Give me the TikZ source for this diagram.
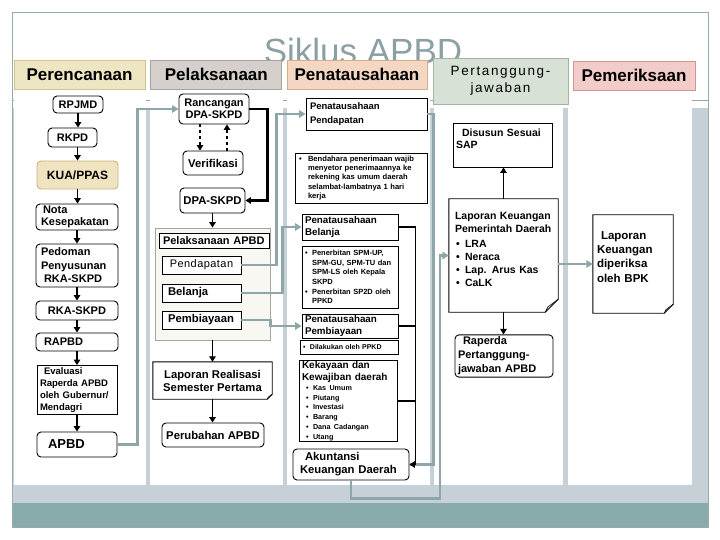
\documentclass[tikz,border=0pt]{standalone}
\usepackage{fontspec}
\setmainfont{Liberation Sans}
\usetikzlibrary{arrows.meta}
\definecolor{hAf}{HTML}{EEE5C2}\definecolor{hAd}{HTML}{D4C48A}
\definecolor{hBf}{HTML}{D6D0CC}\definecolor{hBd}{HTML}{A9A29E}
\definecolor{hCf}{HTML}{F4D7C3}\definecolor{hCd}{HTML}{D9AC8C}
\definecolor{hDf}{HTML}{D8E1D5}\definecolor{hDd}{HTML}{A4B3A2}
\definecolor{hEf}{HTML}{F2CCC8}\definecolor{hEd}{HTML}{D6958E}
\definecolor{bgg}{HTML}{C6D1D7}
\definecolor{tealband}{HTML}{89ABAB}
\definecolor{conn}{HTML}{8EA6A8}
\definecolor{titlec}{HTML}{8C9FA3}
\definecolor{framec}{HTML}{9AA9AB}
\definecolor{kuaf}{HTML}{F0E4C0}\definecolor{kuad}{HTML}{C8B27A}
\definecolor{grpf}{HTML}{F8F7F2}\definecolor{grpd}{HTML}{A8A4A0}
\newcommand{\myfs}[2]{\fontsize{#1}{#2}\selectfont}
\newcommand{\bl}[1]{\makebox[#1][l]{\textbullet}}
\newcommand{\docshape}[2]{%
  \draw[line width=0.9pt] (#1.north west) -- (#1.north east) -- ([yshift=#2]#1.south east) -- ([xshift=-#2]#1.south east) -- (#1.south west) -- cycle;
  \draw[line width=0.6pt] ([yshift=#2]#1.south east) -- ([xshift=-0.8*#2,yshift=0.4*#2]#1.south east) -- ([xshift=-#2]#1.south east);}
\begin{document}
\begin{tikzpicture}[x=1pt,y=-1pt,
  box/.style={draw, line width=0.9pt, rounded corners=4pt, fill=white, inner sep=2pt, align=center, font=\myfs{11.3}{13}\bfseries},
  sq/.style={box, rounded corners=0pt},
  docn/.style={inner sep=2pt, align=center, font=\myfs{11.3}{13}\bfseries},
  hdr/.style={draw, line width=0.8pt, inner sep=0pt, align=center, font=\myfs{17}{19}\bfseries, minimum height=29pt},
  arr/.style={line width=1.8pt, -{Triangle[length=5.5pt,width=6.5pt]}},
  blk/.style={line width=1.8pt},
  garr/.style={draw=conn, color=conn, line width=2.2pt, -{Triangle[length=6.5pt,width=7.5pt]}},
  gline/.style={draw=conn, line width=2.2pt}]
\useasboundingbox (0,0) rectangle (720,540);
% background
\fill[bgg] (12,108) rectangle (708,503);
\fill[tealband] (12,503) rectangle (708,527);
\draw[framec, line width=0.8pt] (12,100) -- (708,100);
\fill[white] (14,95) rectangle (146,485);
\fill[white] (150,95) rectangle (283,485);
\fill[white] (287,95) rectangle (430,485);
\fill[white] (434,95) rectangle (563,485);
\fill[white] (568,95) rectangle (692,485);
\draw[framec, line width=0.8pt] (12,12) rectangle (708,527);
% title
\node[font=\myfs{35}{40}, text=titlec, anchor=base, inner sep=0pt] (title) at (363,64) {Siklus APBD};
% headers
\node[hdr, fill=hAf, draw=hAd, minimum width=131pt] (hA) at (79.5,74.5) {Perencanaan};
\node[hdr, fill=hBf, draw=hBd, minimum width=131pt] (hB) at (216.3,74.5) {Pelaksanaan};
\node[hdr, fill=hCf, draw=hCd, minimum width=140pt] (hC) at (357,74.5) {Penatausahaan};
\node[hdr, fill=hDf, draw=hDd, minimum width=135pt, minimum height=46pt, font=\myfs{13.5}{17}\mdseries\addfontfeature{LetterSpace=12}] (hD) at (500.5,81) {Pertanggung-\\jawaban};
\node[hdr, fill=hEf, draw=hEd, minimum width=122pt] (hE) at (634,75.5) {Pemeriksaan};
% column 1
\node[box, minimum width=50pt, minimum height=17pt, font=\myfs{11}{12}\bfseries] (rpjmd) at (78,104.5) {RPJMD};
\node[box, minimum width=49pt, minimum height=19pt, font=\myfs{11}{12}\bfseries] (rkpd) at (72.5,137.5) {RKPD};
\node[box, fill=kuaf, draw=kuad, minimum width=81pt, minimum height=28pt, font=\myfs{12}{13}\bfseries] (kua) at (77.5,175) {KUA/PPAS};
\node[box, align=left, text width=72pt, inner xsep=5pt, minimum height=26pt, font=\myfs{11}{12}\bfseries] (nota) at (77,217) {\hspace*{2pt}Nota\\Kesepakatan};
\node[box, align=left, text width=72pt, inner xsep=5pt, minimum height=43pt, font=\myfs{11}{13.5}\bfseries] (pedoman) at (77,265.5) {Pedoman\\Penyusunan\\\hspace*{3pt}RKA-SKPD};
\node[box, minimum width=82pt, minimum height=19pt, font=\myfs{11}{12}\bfseries] (rka) at (77,310.5) {RKA-SKPD};
\node[box, align=left, text width=66pt, inner xsep=8pt, minimum height=18pt, font=\myfs{11}{12}\bfseries] (rapbd) at (77,342) {RAPBD};
\node[sq, align=left, text width=74pt, inner xsep=3pt, minimum height=48pt, font=\myfs{9.5}{12}\bfseries] (evaluasi) at (77,390) {\hspace*{4pt}Evaluasi\\Raperda APBD\\oleh Gubernur/\\Mendagri};
\node[box, align=left, text width=58pt, inner xsep=11pt, minimum height=25pt, font=\myfs{13}{14}\bfseries] (apbd) at (77,444.5) {APBD};
% column 2
\node[box, minimum width=70pt, minimum height=30pt, font=\myfs{11}{12.5}\bfseries] (rancangan) at (214,109) {Rancangan\\DPA-SKPD};
\node[box, minimum width=60pt, minimum height=24pt] (verif) at (213,163) {Verifikasi};
\node[box, minimum width=65pt, minimum height=25pt] (dpa) at (212.5,200.5) {DPA-SKPD};
\node[draw=grpd, fill=grpf, line width=0.8pt, minimum width=115pt, minimum height=112pt] (grp) at (212.5,284) {};
\node[sq, align=left, text width=102pt, inner xsep=4pt, inner ysep=1pt, minimum height=15pt, font=\myfs{11}{12}\bfseries] (pelapbd) at (214,240.5) {Pelaksanaan APBD};
\node[sq, minimum width=79pt, minimum height=18pt, font=\myfs{11}{12}\mdseries\addfontfeature{LetterSpace=4}] (pendapatan) at (201.5,265) {Pendapatan};
\node[sq, align=left, text width=67pt, inner xsep=6pt, minimum height=18pt, font=\myfs{11.3}{12}\bfseries] (belanja) at (201.5,293) {Belanja};
\node[sq, align=left, text width=67pt, inner xsep=6pt, minimum height=18pt, font=\myfs{11.3}{12}\bfseries] (pembiayaan) at (201.5,320) {Pembiayaan};
\node[docn, minimum width=119pt, minimum height=37pt] (lrs) at (212.5,380.5) {Laporan Realisasi\\Semester Pertama};
\docshape{lrs}{5pt}
\node[box, minimum width=102pt, minimum height=24pt] (perubahan) at (213,435) {Perubahan APBD};
% column 3
\node[sq, align=left, text width=113pt, inner xsep=4pt, minimum height=32pt, font=\myfs{9.5}{14}\bfseries] (ppend) at (366.5,114) {Penatausahaan\\Pendapatan};
\node[sq, align=left, text width=124pt, inner xsep=4pt, minimum height=50pt, font=\myfs{7.6}{9.3}\bfseries] (note1) at (361,178) {\bl{9pt}Bendahara penerimaan wajib\\\hspace*{9pt}menyetor penerimaannya ke\\\hspace*{9pt}rekening kas umum daerah\\\hspace*{9pt}selambat-lambatnya 1 hari\\\hspace*{9pt}kerja};
\node[sq, align=left, text width=90pt, inner xsep=3pt, inner ysep=1pt, minimum height=26pt, font=\myfs{9.8}{12}\bfseries] (pbel) at (350,227) {Penatausahaan\\Belanja};
\node[sq, align=left, text width=90pt, inner xsep=3pt, minimum height=62pt, font=\myfs{7.5}{9.7}\bfseries] (note2) at (350,277) {\bl{7pt}Penerbitan SPM-UP,\\\hspace*{7pt}SPM-GU, SPM-TU dan\\\hspace*{7pt}SPM-LS oleh Kepala\\\hspace*{7pt}SKPD\\\bl{7pt}Penerbitan SP2D oleh\\\hspace*{7pt}PPKD};
\node[sq, align=left, text width=90pt, inner xsep=3pt, inner ysep=1pt, minimum height=24pt, font=\myfs{9.8}{11.5}\bfseries] (pbia) at (350,326) {Penatausahaan\\Pembiayaan};
\node[sq, align=left, text width=92pt, inner xsep=3pt, inner ysep=1pt, minimum height=14pt, font=\myfs{7}{8}\bfseries] (note3) at (349,347) {\bl{7pt}Dilakukan oleh PPKD};
\node[sq, align=left, text width=92pt, inner xsep=3pt, inner ysep=1pt, minimum height=78pt, font=\myfs{10}{12}\bfseries] (kek) at (348,401) {Kekayaan dan\\Kewajiban daerah\\\myfs{7.2}{9.8}\hspace*{4pt}\bl{7pt}Kas Umum\\\hspace*{4pt}\bl{7pt}Piutang\\\hspace*{4pt}\bl{7pt}Investasi\\\hspace*{4pt}\bl{7pt}Barang\\\hspace*{4pt}\bl{7pt}Dana Cadangan\\\hspace*{4pt}\bl{7pt}Utang\par};
\node[box, align=left, text width=102pt, inner xsep=7pt, minimum height=31pt, font=\myfs{11.3}{13}\bfseries] (aku) at (351,464.5) {\hspace*{5pt}Akuntansi\\Keuangan Daerah};
% column 4
\node[sq, align=left, text width=93pt, inner xsep=3pt, minimum height=44pt, font=\myfs{10.5}{12.5}\bfseries] (sap) at (502.5,145) {\hspace*{6pt}Disusun Sesuai\\SAP\\\mbox{}};
\node[docn, align=left, text width=97pt, inner xsep=6pt, minimum height=113pt, font=\myfs{10.5}{13}\bfseries] (lkpd) at (503.5,255.5) {Laporan Keuangan\\Pemerintah Daerah\\[2pt]\hspace*{1pt}\bl{9pt}LRA\\\hspace*{1pt}\bl{9pt}Neraca\\\hspace*{1pt}\bl{9pt}Lap. Arus Kas\\\hspace*{1pt}\bl{9pt}CaLK\\\mbox{}};
\docshape{lkpd}{13pt}
\node[box, align=left, text width=92pt, inner xsep=3pt, minimum height=42pt, font=\myfs{11}{14}\bfseries] (raperda) at (504,356) {\hspace*{5pt}Raperda\\Pertanggung-\\jawaban APBD};
% column 5
\node[docn, align=left, text width=72pt, inner xsep=4pt, minimum height=98pt, font=\myfs{11.5}{14.3}\bfseries] (bpk) at (633,264) {\hspace*{4pt}Laporan\\Keuangan\\diperiksa\\oleh BPK\\\mbox{}};
\docshape{bpk}{9pt}
% black connectors column 1
\draw[arr] (rpjmd.south) -- (rpjmd.south |- rkpd.north);
\draw[arr] (kua.north |- rkpd.south) -- (kua.north);
\draw[arr] (kua.south) -- (kua.south |- nota.north);
\draw[arr] (nota.south) -- (pedoman.north);
\draw[arr] (pedoman.south) -- (rka.north);
\draw[arr] (rka.south) -- (rapbd.north);
\draw[arr] (rapbd.south) -- (evaluasi.north);
\draw[arr] (evaluasi.south) -- (apbd.north);
% column 2
\draw[arr, dashed, line width=1.6pt] ([xshift=-14pt]rancangan.south) -- ([xshift=-14pt]rancangan.south |- verif.north);
\draw[arr, dashed, line width=1.6pt] ([xshift=13pt]rancangan.south |- verif.north) -- ([xshift=13pt]rancangan.south);
\draw[arr, line width=2.2pt] (rancangan.east) -- ++(18,0) |- (dpa.east);
\draw[arr] (dpa.south) -- (dpa.south |- grp.north);
\draw[arr] (grp.south) -- (grp.south |- lrs.north);
\draw[arr] (lrs.south) -- (lrs.south |- perubahan.north);
% gray connectors
\draw[garr] (apbd.east) -- ++(20,0) |- (rancangan.west);
\draw[garr] (pendapatan.east) -- ++(35,0) |- (ppend.west);
\draw[garr] (belanja.east) -- ++(41,0) |- (pbel.west);
\draw[garr] (pembiayaan.east) -- ++(29,0) |- (pbia.west);
\draw[gline] (ppend.east) -- ++(6,0) |- (aku.east);
\draw[garr] (aku.south) -- ++(0,18) -- ++(89,0) |- (lkpd.west);
\draw[garr] (lkpd.east |- bpk.west) -- (bpk.west);
% black connectors column 3 and 4
\draw[blk] (pbia.east) -- ++(17,0);
\draw[blk] (kek.east) -- ++(18,0);
\draw[arr] (pbel.east) -- ++(17,0) |- (aku.east);
\draw[arr] (lkpd.north) -- (lkpd.north |- sap.south);
\draw[arr] (lkpd.south) -- (lkpd.south |- raperda.north);
\end{tikzpicture}
\end{document}
